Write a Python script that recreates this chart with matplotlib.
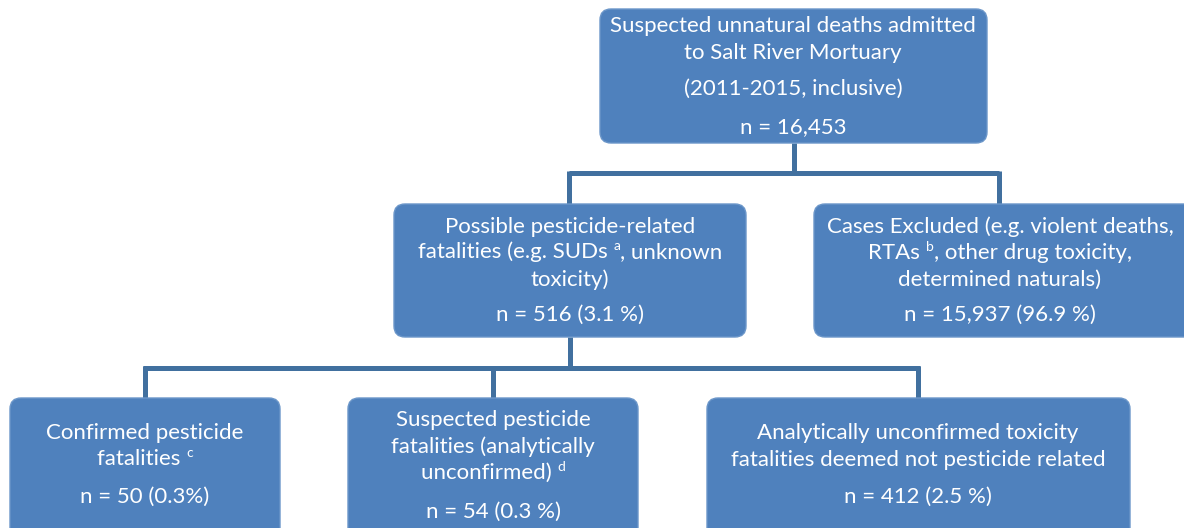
import matplotlib
matplotlib.use("Agg")
import matplotlib.pyplot as plt
from matplotlib.patches import FancyBboxPatch

# ---- data (text content of the flowchart); ^x^ marks a superscript ----
top_lines = ["Suspected unnatural deaths admitted", "to Salt River Mortuary",
             "(2011-2015, inclusive)", "n = 16,453"]
mid_left_lines = ["Possible pesticide-related", "fatalities (e.g. SUDs ^a^, unknown",
                  "toxicity)", "n = 516 (3.1 %)"]
mid_right_lines = ["Cases Excluded (e.g. violent deaths,", "RTAs ^b^, other drug toxicity,",
                   "determined naturals)", "n = 15,937 (96.9 %)"]
bot1_lines = ["Confirmed pesticide", "fatalities ^c^", "n = 50 (0.3%)"]
bot2_lines = ["Suspected pesticide", "fatalities (analytically", "unconfirmed) ^d^",
              "n = 54 (0.3 %)"]
bot3_lines = ["Analytically unconfirmed toxicity", "fatalities deemed not pesticide related",
              "n = 412 (2.5 %)"]

# ---- layout (pixel coordinates) ----
W, H = 1184, 528
BOX = "#4F81BD"
EDGE = "#6B96C9"
LINE = "#41709F"
FAMILY = ["Lato", "DejaVu Sans"]
FS = 16
FS_SUP = 10

fig = plt.figure(figsize=(W / 100, H / 100), dpi=100)
ax = fig.add_axes([0, 0, 1, 1])
ax.set_xlim(0, W)
ax.set_ylim(H, 0)
ax.axis("off")
renderer = fig.canvas.get_renderer()

def box(x0, y0, x1, y1):
    p = FancyBboxPatch((x0, y0), x1 - x0, y1 - y0,
                       boxstyle="round,pad=0,rounding_size=11",
                       facecolor=BOX, edgecolor=EDGE, linewidth=1.0, zorder=2)
    ax.add_patch(p)

def width(s, fs):
    t = ax.text(0, 0, s, fontsize=fs, family=FAMILY)
    w = t.get_window_extent(renderer).width
    t.remove()
    return w

def one_line(cx, y, s):
    kw = dict(color="white", family=FAMILY, zorder=3)
    if "^" not in s:
        ax.text(cx, y, s, ha="center", va="center", fontsize=FS, **kw)
        return
    pre, sup, post = s.split("^")
    wpre, wsup, wpost = width(pre, FS), width(sup, FS_SUP), width(post, FS)
    x = cx - (wpre + wsup + wpost) / 2
    ax.text(x, y, pre, ha="left", va="center", fontsize=FS, **kw)
    ax.text(x + wpre, y - 6, sup, ha="left", va="center", fontsize=FS_SUP, **kw)
    if post:
        ax.text(x + wpre + wsup, y, post, ha="left", va="center", fontsize=FS, **kw)

def lines(cx, ys, texts):
    for y, t in zip(ys, texts):
        one_line(cx, y, t)

def seg(xs, ys):
    ax.plot(xs, ys, color=LINE, linewidth=3.6, solid_capstyle="butt", zorder=1)

# connectors
seg([794, 794], [143, 173])
seg([569, 999], [173, 173])
seg([569, 569], [171, 205])
seg([999, 999], [171, 205])
seg([570, 570], [337, 368])
seg([143, 920], [368, 368])
seg([145, 145], [366, 399])
seg([493, 493], [366, 399])
seg([918, 918], [366, 399])

# boxes
box(600, 9, 987, 143)
box(394, 204, 746, 337)
box(814, 204, 1200, 337)
box(10, 398, 280, 545)
box(348, 398, 638, 545)
box(707, 398, 1130, 545)

# text
lines(793, [26, 53, 89, 127], top_lines)
lines(570, [227, 252, 280, 315], mid_left_lines)
lines(1000, [227, 253, 280, 315], mid_right_lines)
lines(145, [433, 459, 497], bot1_lines)
lines(493, [420, 447, 473, 512], bot2_lines)
lines(918, [433, 460, 497], bot3_lines)

fig.savefig("out.png", dpi=100)
